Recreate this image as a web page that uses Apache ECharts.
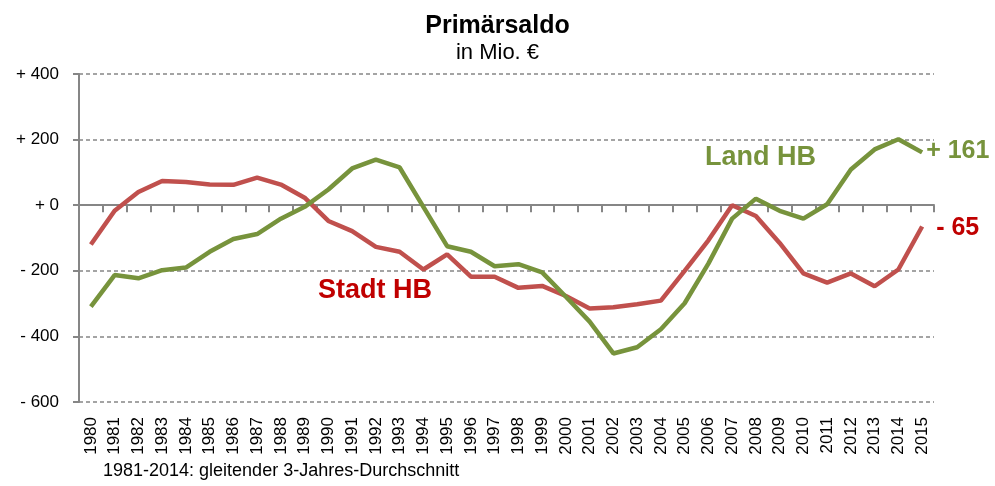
<!DOCTYPE html>
<html>
<head>
<meta charset="utf-8">
<script src="https://cdn.jsdelivr.net/npm/echarts@6/dist/echarts.min.js"></script>
<style>
html,body{margin:0;padding:0;background:#fff;}
#main{width:995px;height:486px;}
</style>
</head>
<body>
<div id="main"></div>
<script>
// Daten (Mio. €)
var jahre=['1980','1981','1982','1983','1984','1985','1986','1987','1988','1989',
	'1990','1991','1992','1993','1994','1995','1996','1997','1998','1999',
	'2000','2001','2002','2003','2004','2005','2006','2007','2008','2009',
	'2010','2011','2012','2013','2014','2015'];
var stadtHB=[-120,-17,40,74,71,63,62,84,63,23,
	-48,-79,-127,-142,-196,-150,-218,-218,-252,-246,
	-277,-315,-311,-302,-291,-200,-107,0,-33,-115,
	-208,-236,-208,-247,-196,-65];
var landHB=[-309,-213,-223,-198,-190,-142,-103,-88,-41,-5,
	48,112,139,115,-5,-125,-142,-186,-180,-205,
	-279,-355,-452,-433,-378,-299,-178,-41,20,-17,
	-41,3,109,170,201,161];
var yTicks={'400':'+ 400','200':'+ 200','0':'+ 0','-200':'- 200','-400':'- 400','-600':'- 600'};

var font='"Liberation Sans", Arial, sans-serif';
var chart=echarts.init(document.getElementById('main'));
var option={
	backgroundColor:'#fff',
	textStyle:{fontFamily:font},
	title:[{
		text:'Primärsaldo',
		left:'center',
		top:9,
		textStyle:{fontFamily:font,fontSize:25,fontWeight:'bold',color:'#000'}
	},{
		text:'in Mio. €',
		left:'center',
		top:42,
		padding:0,
		textStyle:{fontFamily:font,fontSize:22,fontWeight:'normal',color:'#000'}
	}],
	grid:{left:79,right:61,top:74,bottom:84},
	xAxis:[{
		// Beschriftung unten
		type:'category',
		data:jahre,
		position:'bottom',
		axisLine:{show:false,onZero:false},
		axisTick:{show:false},
		axisLabel:{rotate:90,color:'#000',fontSize:17,fontFamily:font,margin:15,interval:0}
	},{
		// Achsenlinie bei 0
		type:'category',
		data:jahre,
		position:'top',
		axisLine:{show:true,onZero:true,lineStyle:{color:'#868686',width:2}},
		axisTick:{show:true,inside:true,length:7,interval:0,lineStyle:{color:'#868686',width:2}},
		axisLabel:{show:false}
	}],
	yAxis:{
		type:'value',
		min:-600,
		max:400,
		interval:200,
		axisLine:{show:true,lineStyle:{color:'#868686',width:2}},
		axisTick:{show:true,length:6,lineStyle:{color:'#868686',width:2}},
		axisLabel:{
			color:'#000',fontSize:17,fontFamily:font,margin:20,
			formatter:function(v){return yTicks[String(v)];}
		},
		splitLine:{lineStyle:{color:'#868686',type:[4,3],width:1.5}}
	},
	series:[{
		name:'Stadt HB',
		type:'line',
		data:stadtHB,
		symbol:'none',
		lineStyle:{color:'#C0504D',width:4.5},
		itemStyle:{color:'#C0504D'},
		endLabel:{
			show:true,
			distance:14,
			offset:[0,2],
			formatter:'- 65',
			color:'#C00000',fontSize:25,fontWeight:'bold',fontFamily:font
		}
	},{
		name:'Land HB',
		type:'line',
		data:landHB,
		symbol:'none',
		lineStyle:{color:'#77933C',width:4.5},
		itemStyle:{color:'#77933C'},
		endLabel:{
			show:true,
			distance:4,
			offset:[0,-1],
			formatter:'+ 161',
			color:'#77933C',fontSize:25,fontWeight:'bold',fontFamily:font
		}
	}],
	graphic:[{
		type:'text',
		left:705,
		top:144,
		style:{text:'Land HB',fill:'#77933C',font:'bold 27px '+font}
	},{
		type:'text',
		left:318,
		top:277,
		style:{text:'Stadt HB',fill:'#C00000',font:'bold 27px '+font}
	},{
		type:'text',
		left:103,
		top:462,
		style:{text:'1981-2014: gleitender 3-Jahres-Durchschnitt',fill:'#000',font:'18px '+font}
	}]
};
chart.setOption(option);
</script>
</body>
</html>
